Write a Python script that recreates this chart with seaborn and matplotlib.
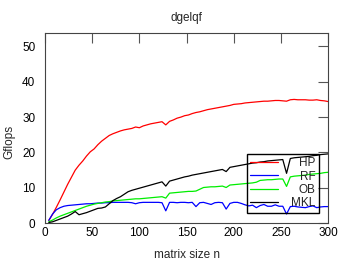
import numpy as np
import pandas as pd
import matplotlib
matplotlib.use("Agg")
import matplotlib.pyplot as plt
import seaborn as sns

# matrix sizes and Gflops per library
n = list(range(4, 301, 4))

hp = [0.8, 2.5, 4.5, 6.6, 8.8, 11.0, 13.0, 15.0, 16.4, 17.6,
      19.0, 20.2, 21.0, 22.2, 23.2, 24.0, 24.8, 25.3, 25.7, 26.1,
      26.4, 26.6, 26.8, 27.2, 27.0, 27.5, 27.8, 28.1, 28.3, 28.5,
      28.7, 27.8, 28.8, 29.2, 29.7, 30.0, 30.4, 30.6, 31.0, 31.3,
      31.5, 31.8, 32.1, 32.3, 32.5, 32.7, 32.9, 33.1, 33.3, 33.6,
      33.7, 33.8, 34.0, 34.1, 34.2, 34.3, 34.4, 34.5, 34.5, 34.6,
      34.7, 34.7, 34.6, 34.5, 34.9, 35.0, 34.9, 34.9, 34.9, 34.8,
      34.8, 34.9, 34.7, 34.6, 34.4]

rf = [0.8, 2.6, 3.8, 4.4, 4.8, 5.0, 5.1, 5.2, 5.3, 5.4,
      5.5, 5.5, 5.6, 5.7, 5.7, 5.8, 5.8, 5.9, 5.9, 5.9,
      5.9, 5.9, 5.8, 5.5, 5.8, 5.9, 5.9, 5.9, 5.9, 5.9,
      5.8, 3.5, 5.9, 5.9, 5.8, 5.9, 5.9, 5.8, 5.9, 4.7,
      5.8, 5.9, 5.6, 5.3, 5.8, 5.9, 5.8, 4.0, 5.6, 5.9,
      5.9, 5.6, 5.2, 4.9, 5.1, 4.4, 5.0, 5.3, 4.8, 4.8,
      5.2, 4.8, 4.8, 2.6, 4.7, 4.8, 4.6, 4.5, 4.4, 4.7,
      4.9, 4.4, 4.6, 4.7, 4.7]

ob = [0.4, 0.9, 1.5, 2.0, 2.4, 2.8, 3.2, 3.6, 4.0, 4.4,
      4.8, 5.1, 5.4, 5.6, 5.8, 6.0, 6.1, 6.3, 6.4, 6.5,
      6.6, 6.7, 6.8, 6.9, 6.9, 7.0, 7.1, 7.2, 7.3, 7.4,
      7.5, 7.1, 8.5, 8.6, 8.7, 8.8, 8.9, 9.0, 9.0, 9.1,
      9.6, 10.1, 10.2, 10.3, 10.3, 10.4, 10.5, 10.1, 10.8, 10.9,
      11.0, 11.1, 11.2, 11.3, 11.4, 11.6, 12.1, 12.2, 12.3, 12.3,
      12.4, 12.5, 12.5, 10.4, 13.1, 13.3, 13.4, 13.5, 13.6, 13.8,
      13.9, 14.0, 14.1, 14.3, 14.4]

mkl = [0.2, 0.4, 0.8, 1.2, 1.6, 2.0, 2.6, 3.3, 2.4, 2.7,
       3.0, 3.4, 3.8, 4.2, 4.3, 4.6, 5.5, 6.4, 7.0, 7.5,
       8.2, 8.9, 9.3, 9.6, 9.9, 10.2, 10.5, 10.8, 11.1, 11.4,
       11.7, 10.5, 11.9, 12.2, 12.5, 12.8, 13.1, 13.3, 13.6, 13.8,
       14.0, 14.2, 14.4, 14.6, 14.8, 15.0, 15.2, 14.6, 15.8, 16.0,
       16.2, 16.4, 16.6, 16.8, 17.0, 17.1, 17.3, 17.4, 17.6, 17.7,
       17.8, 17.9, 18.0, 14.1, 18.3, 18.5, 18.6, 18.7, 18.8, 18.9,
       19.1, 19.2, 19.4, 19.5, 19.6]

names = ["HP", "RF", "OB", "MKL"]
colors = ["#ff0000", "#0000ff", "#00ee00", "#000000"]
series = [hp, rf, ob, mkl]

sns.set_theme(style="white")
plt.rcParams["font.family"] = ["Liberation Sans", "DejaVu Sans"]
plt.rcParams["font.size"] = 8.5

fig = plt.figure(figsize=(3.49, 2.62), dpi=100)
ax = fig.add_axes([0.129, 0.148, 0.811, 0.725])

for name, col, vals in zip(names, colors, series):
    sns.lineplot(x=n, y=vals, color=col, label=name, linewidth=0.9, ax=ax)

ax.set_xlim(0, 300)
ax.set_ylim(0, 53.7)
ax.set_xticks([0, 50, 100, 150, 200, 250, 300])
ax.set_yticks([0, 10, 20, 30, 40, 50])

for sp in ax.spines.values():
    sp.set_color("#444444")
    sp.set_linewidth(0.8)
ax.tick_params(direction="in", length=7, width=0.8, color="#555555",
               top=True, right=True, labelsize=8.5, labelcolor="black")
ax.tick_params(axis="x", pad=3)
ax.tick_params(axis="y", pad=7)

ax.set_title("dgelqf", fontsize=8.5, pad=8.5)
ax.set_xlabel("matrix size n", fontsize=8.5)
ax.set_ylabel("Gflops", fontsize=8.5)
ax.xaxis.set_label_coords(0.5, -0.135)
ax.yaxis.set_label_coords(-0.105, 0.43)

leg = ax.legend(loc="upper left", bbox_to_anchor=(0.712, 0.365), borderaxespad=0,
                fontsize=8.5, frameon=True, fancybox=False, framealpha=1,
                edgecolor="black", borderpad=0.3, labelspacing=0.1,
                handlelength=2.4, handletextpad=1.1)
leg.get_frame().set_facecolor("none")
leg.get_frame().set_linewidth(1.0)

# right-align the key labels like gnuplot does
fig.canvas.draw()
texts = leg.get_texts()
widths = [t.get_window_extent().width for t in texts]
for t, w in zip(texts, widths):
    t.set_position((max(widths) - w, 0))

fig.savefig("out.png", dpi=100)
